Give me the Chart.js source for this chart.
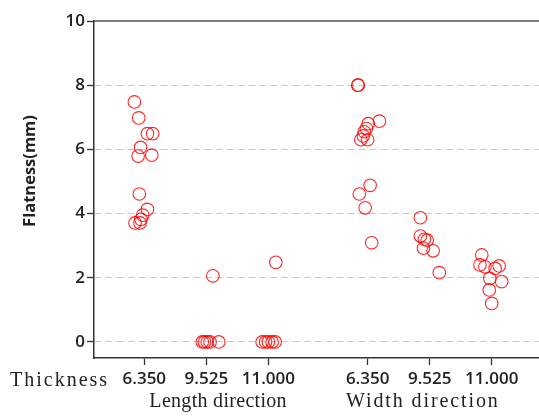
<!DOCTYPE html>
<html><head><meta charset="utf-8">
<script src="https://cdn.jsdelivr.net/npm/chart.js@4"></script>
<style>html,body{margin:0;padding:0;overflow:hidden;background:#fff;width:539px;height:419px}canvas{display:block}</style>
</head><body><canvas id="c" width="560" height="419"></canvas>
<script>
const thicknessLabels = ['6.350','9.525','11.000','6.350','9.525','11.000'];
const groupPositions = [1,2,3,4.6,5.6,6.6];
const directionLabels = ['Length direction','Width direction'];
const directionCenters = [2.19, 5.49];
const yTicks = [0,2,4,6,8,10];
const yTitle = 'Flatness(mm)';
const xTitle = 'Thickness';

const len6350 = [7.48,6.98,6.49,6.49,6.06,5.79,5.82,4.61,4.13,3.95,3.82,3.71,3.71];
const len6350Jitter = [-0.16,-0.09,0.05,0.135,-0.06,-0.1,0.12,-0.08,0.05,-0.025,-0.055,-0.15,-0.07];
const len9525 = [0,0,0,0,0,2.06];
const len9525Jitter = [-0.065,-0.03,0.015,0.06,0.2,0.105];
const len11000 = [0,0,0,0,0,2.48];
const len11000Jitter = [-0.1,-0.045,0,0.06,0.11,0.12];
const wid6350 = [8.0,8.0,6.88,6.8,6.65,6.55,6.42,6.3,6.3,4.88,4.61,4.18,3.09];
const wid6350Jitter = [-0.16,-0.15,0.19,0.01,-0.02,-0.055,-0.07,-0.11,0,0.04,-0.135,-0.04,0.065];
const wid9525 = [3.87,3.3,3.2,3.17,2.92,2.84,2.16];
const wid9525Jitter = [-0.15,-0.15,-0.085,-0.04,-0.1,0.055,0.155];
const wid11000 = [2.71,2.4,2.34,2.29,2.37,1.98,1.88,1.62,1.2];
const wid11000Jitter = [-0.16,-0.19,-0.11,0.055,0.12,-0.03,0.16,-0.04,0];

const groups = [
  [len6350, len6350Jitter], [len9525, len9525Jitter], [len11000, len11000Jitter],
  [wid6350, wid6350Jitter], [wid9525, wid9525Jitter], [wid11000, wid11000Jitter]
];

const datasets = groups.map((g, gi) => ({
  data: g[0].map((v, i) => ({x: groupPositions[gi] + g[1][i], y: v})),
  pointStyle: 'circle',
  pointRadius: 6.3,
  pointHoverRadius: 6.3,
  borderWidth: 1.1,
  borderColor: 'rgba(255,0,0,0.85)',
  backgroundColor: 'rgba(0,0,0,0)',
  showLine: false
}));

// keep x mapping: first group at 144.3px, 62.04px per unit
const xFit = {
  id: 'xFit',
  afterLayout(chart) {
    const xs = chart.scales.x;
    const k = 62.04;
    xs.min = 1 - (144.3 - xs.left) / k;
    xs.max = xs.min + (xs.right - xs.left) / k;
    xs.configure();
  }
};

const extras = {
  id: 'extras',
  afterDraw(chart) {
    const ctx = chart.ctx, a = chart.chartArea, xs = chart.scales.x;
    ctx.save();
    ctx.strokeStyle = '#555';
    ctx.lineWidth = 1.5;
    ctx.beginPath();
    ctx.moveTo(a.left, a.top);
    ctx.lineTo(a.right, a.top);
    ctx.stroke();

    ctx.fillStyle = '#222';
    ctx.save();
    ctx.translate(30, 171);
    ctx.rotate(-Math.PI / 2);
    ctx.font = 'bold 16.5px "Open Sans"';
    ctx.textAlign = 'center';
    ctx.textBaseline = 'middle';
    ctx.fillText(yTitle, 0, 0);
    ctx.restore();

    ctx.font = '20px "Liberation Serif"';
    ctx.letterSpacing = '2px';
    ctx.textAlign = 'left';
    ctx.textBaseline = 'alphabetic';
    ctx.fillText(xTitle, 10, 386);
    ctx.textAlign = 'center';
    const spacing = ['0.3px', '1.9px'];
    directionLabels.forEach((t, i) => {
      ctx.letterSpacing = spacing[i];
      ctx.fillText(t, xs.getPixelForValue(directionCenters[i]), 407);
    });
    ctx.restore();
  }
};

new Chart(document.getElementById('c'), {
  type: 'scatter',
  data: { datasets },
  options: {
    responsive: false,
    animation: false,
    devicePixelRatio: 1,
    layout: { padding: { top: 21, left: 0, right: 0, bottom: 0 } },
    plugins: { legend: { display: false }, tooltip: { enabled: false } },
    scales: {
      x: {
        type: 'linear', min: 0.17, max: 7.6,
        afterBuildTicks: s => { s.ticks = groupPositions.map(v => ({ value: v })); },
        afterFit: s => { s.height = 419 - 358; },
        grid: { drawOnChartArea: false, tickLength: 7, tickColor: '#333', tickWidth: 1.3 },
        border: { color: '#333', width: 1.5 },
        ticks: {
          callback: (v, i) => thicknessLabels[i],
          font: { family: 'Open Sans', size: 17, weight: '600' },
          color: '#222', padding: 4, maxRotation: 0, autoSkip: false
        }
      },
      y: {
        type: 'linear', min: -0.5, max: 10,
        afterBuildTicks: s => { s.ticks = yTicks.map(v => ({ value: v })); },
        afterFit: s => { s.width = 94; },
        grid: {
          color: c => (c.tick && c.tick.value === 10) ? 'rgba(0,0,0,0)' : '#c8c8c8',
          lineWidth: 1, tickLength: 7, tickColor: '#333', tickWidth: 1.3, tickBorderDash: []
        },
        border: { color: '#333', width: 1.5, dash: [7, 4] },
        ticks: {
          font: { family: 'Open Sans', size: 17, weight: '600' },
          color: '#222', padding: 2
        }
      }
    }
  },
  plugins: [xFit, extras]
});
</script>
</body></html>
